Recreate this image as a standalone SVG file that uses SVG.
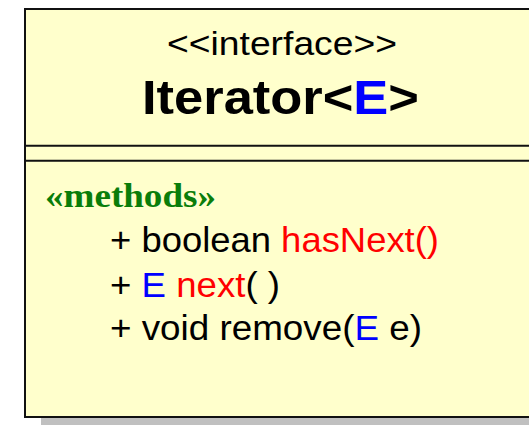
<svg xmlns="http://www.w3.org/2000/svg" width="529" height="425" viewBox="0 0 529 425">
  <style>
    .shadow { fill: #c0c0c0; }
    .box { fill: #ffffcc; stroke: #111; stroke-width: 2; }
    .sep { stroke: #111; stroke-width: 2; }
    .sans { font-family: "Liberation Sans", Arial, sans-serif; fill: #000; }
    .serif { font-family: "Liberation Serif", "Times New Roman", serif; }
    .stereo { font-size: 34px; }
    .name { font-size: 48px; font-weight: bold; }
    .section { font-size: 34px; font-weight: bold; fill: #0a7d0a; }
    .member { font-size: 35px; }
    .type { fill: #0000ff; }
    .op { fill: #ff0000; }
  </style>

  <!-- Iterator<E> interface class box -->
  <g id="iterator-interface">
    <rect class="shadow" x="41" y="25" width="520" height="420"/>
    <rect class="box" x="25" y="9" width="520" height="408"/>
    <line class="sep" x1="25" y1="145.7" x2="545" y2="145.7"/>
    <line class="sep" x1="25" y1="160.7" x2="545" y2="160.7"/>

    <text class="sans stereo" x="167" y="55" textLength="230" lengthAdjust="spacingAndGlyphs">&lt;&lt;interface&gt;&gt;</text>
    <text class="sans name" x="142" y="114" textLength="277" lengthAdjust="spacingAndGlyphs">Iterator&lt;<tspan class="type">E</tspan>&gt;</text>

    <text class="serif section" x="45" y="207" textLength="171" lengthAdjust="spacingAndGlyphs">«methods»</text>

    <text class="sans member" x="110" y="252" textLength="329" lengthAdjust="spacingAndGlyphs">+ boolean <tspan class="op">hasNext()</tspan></text>
    <text class="sans member" x="110" y="296.5" textLength="170" lengthAdjust="spacingAndGlyphs">+ <tspan class="type">E</tspan> <tspan class="op">next</tspan>( )</text>
    <text class="sans member" x="110" y="339.5" textLength="312" lengthAdjust="spacingAndGlyphs">+ void remove(<tspan class="type">E</tspan> e)</text>
  </g>
</svg>
